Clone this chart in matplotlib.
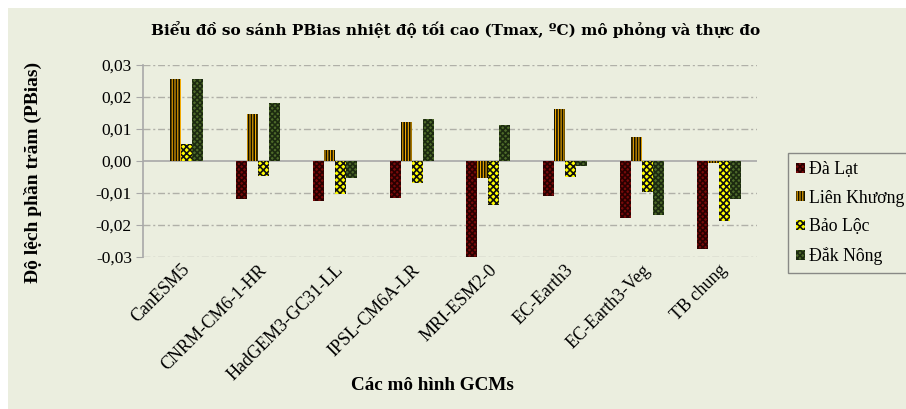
import matplotlib
matplotlib.use("Agg")
import matplotlib.pyplot as plt
import numpy as np
from matplotlib.patches import Rectangle
from matplotlib.ticker import FuncFormatter

plt.rcParams['hatch.linewidth'] = 1.2

categories = ["CanESM5", "CNRM-CM6-1-HR", "HadGEM3-GC31-LL", "IPSL-CM6A-LR",
              "MRI-ESM2-0", "EC-Earth3", "EC-Earth3-Veg", "TB chung"]
series_names = ["Đà Lạt", "Liên Khương", "Bảo Lộc", "Đắk Nông"]
da_lat = [0.0, -0.0120, -0.0124, -0.0115, -0.0303, -0.0109, -0.0178, -0.0276]
lien_khuong = [0.0257, 0.0147, 0.0034, 0.0122, -0.0052, 0.0163, 0.0075, -0.0005]
bao_loc = [0.0053, -0.0047, -0.0104, -0.0069, -0.0139, -0.0050, -0.0097, -0.0187]
dak_nong = [0.0257, 0.0181, -0.0054, 0.0131, 0.0113, -0.0016, -0.0170, -0.0120]
yticks = [-0.03, -0.02, -0.01, 0.0, 0.01, 0.02, 0.03]

bg = "#EBEEDF"
fig = plt.figure(figsize=(9.06, 4.09), dpi=100)
fig.patch.set_facecolor("white")
fig.patches.append(Rectangle((8/906, 0), 898/906, 401/409, transform=fig.transFigure,
                             facecolor=bg, edgecolor="none", zorder=-10))

ax = fig.add_axes([143/906, 1-257/409, 614/906, 192/409])
ax.set_facecolor(bg)

serif = ["Liberation Serif", "DejaVu Serif"]
styles = [
    dict(facecolor="#7A0A0A", hatch="xxxxxx", edgecolor="#2a0000"),
    dict(facecolor="#F2A900", hatch="||||||", edgecolor="#101000"),
    dict(facecolor="#FFFF00", hatch="xxxxx", edgecolor="#111111"),
    dict(facecolor="#4E6B2A", hatch="xxxxxx", edgecolor="#1c2a10"),
]
data = [da_lat, lien_khuong, bao_loc, dak_nong]
x = np.arange(len(categories))
w = 0.143
for i, (vals, st, name) in enumerate(zip(data, styles, series_names)):
    ax.bar(x + (i - 1.5) * w, vals, width=w, label=name, linewidth=0, zorder=3, **st)

ax.set_xlim(-0.5, len(categories) - 0.5)
ax.set_ylim(-0.03, 0.03)
ax.set_yticks(yticks)
ax.yaxis.set_major_formatter(FuncFormatter(lambda v, p: f"{v:.2f}".replace(".", ",").replace("-0,00", "0,00")))
for t in yticks:
    if t == 0:
        ax.axhline(0, color="#A8A8A8", lw=1.2, zorder=2)
    else:
        ax.axhline(t, color="#B0B0A8", lw=1.0, ls=(0, (5, 2, 1.5, 2)), zorder=1)

for s in ["top", "right", "bottom"]:
    ax.spines[s].set_visible(False)
ax.spines["left"].set_color("#A8A8A8")
ax.spines["left"].set_linewidth(1.2)
ax.tick_params(axis="y", direction="out", length=5, color="#A8A8A8", labelsize=12.5, pad=3)
ax.tick_params(axis="x", length=0, pad=3)
ax.set_xticks(x)
ax.set_xticklabels(categories, rotation=45, ha="right", rotation_mode="anchor", fontsize=13,
                   family=serif)
for lab in ax.get_yticklabels():
    lab.set_family(serif)

fig.text(456/906, 1-30/409, "Biểu đồ so sánh PBias nhiệt độ tối cao (Tmax, ºC) mô phỏng và thực đo",
         ha="center", va="center", fontsize=11, fontweight="bold", family=["DejaVu Serif"])
fig.text(432/906, 1-385/409, "Các mô hình GCMs", ha="center", va="center", fontsize=13.8,
         fontweight="bold", family=serif)
fig.text(33/906, 1-172/409, "Độ lệch phần trăm (PBias)", ha="center", va="center", rotation=90,
         fontsize=14, fontweight="bold", family=serif)

leg = ax.legend(loc="upper left", bbox_to_anchor=(788/906, 1-153/409), bbox_transform=fig.transFigure,
                prop={"family": serif, "size": 12.8}, frameon=True, fancybox=False,
                handlelength=0.5, handleheight=0.5, handletextpad=0.25, borderpad=0.45,
                labelspacing=0.66, borderaxespad=0)
leg.get_frame().set_edgecolor("#707070")
leg.get_frame().set_facecolor(bg)
leg.get_frame().set_linewidth(1.0)

fig.savefig("out.png", dpi=100, facecolor="white")
